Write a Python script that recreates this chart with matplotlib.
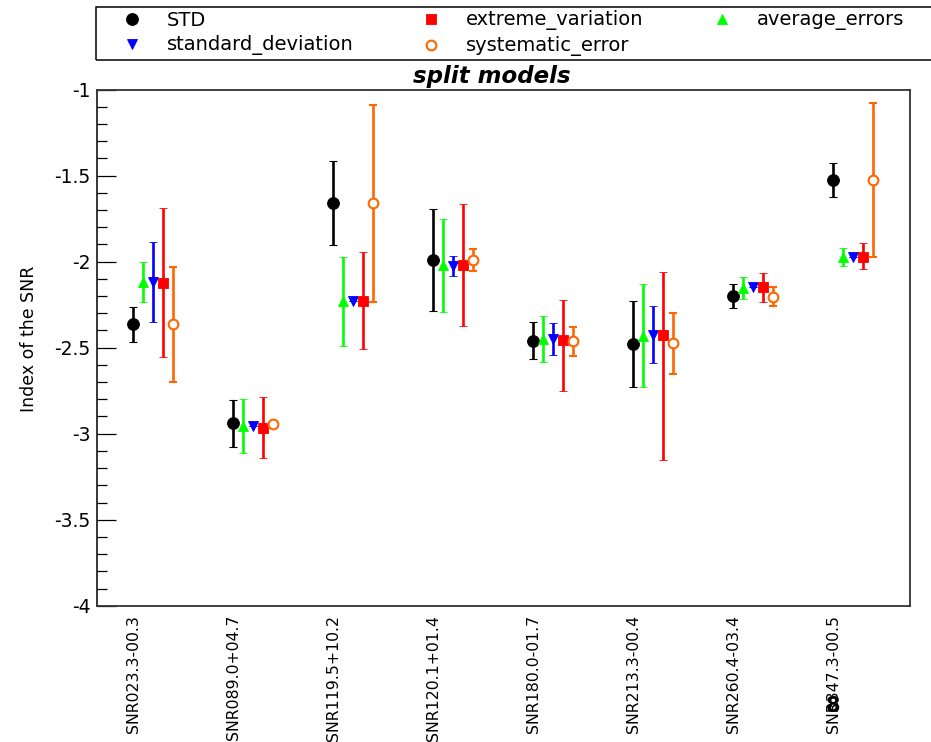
# Spectral index of SNRs, split models

import numpy as np
import matplotlib
matplotlib.use('Agg')
import matplotlib.pyplot as plt
from matplotlib.ticker import MultipleLocator, FormatStrFormatter
from matplotlib.patches import Rectangle

plt.rcParams['font.family'] = 'DejaVu Sans'
plt.rcParams['axes.unicode_minus'] = False

# data
snr_names = ['SNR023.3-00.3', 'SNR089.0+04.7', 'SNR119.5+10.2', 'SNR120.1+01.4',
             'SNR180.0-01.7', 'SNR213.3-00.4', 'SNR260.4-03.4', 'SNR347.3-00.5']

std_val = [-2.365, -2.94, -1.66, -1.99, -2.46, -2.48, -2.20, -1.525]
std_err = [0.10, 0.137, 0.243, 0.294, 0.107, 0.25, 0.07, 0.10]

avg_val = [-2.12, -2.955, -2.23, -2.022, -2.451, -2.43, -2.154, -1.972]
avg_err = [0.117, 0.155, 0.26, 0.272, 0.134, 0.30, 0.065, 0.054]

sdev_val = [-2.119, -2.955, -2.227, -2.027, -2.449, -2.424, -2.145, -1.971]
sdev_err = [0.233, 0.0, 0.0, 0.058, 0.091, 0.165, 0.0, 0.0]

ext_val = [-2.122, -2.964, -2.226, -2.018, -2.455, -2.426, -2.149, -1.971]
ext_err_lo = [0.434, 0.179, 0.28, 0.354, 0.295, 0.727, 0.086, 0.074]
ext_err_hi = [0.434, 0.179, 0.28, 0.354, 0.23, 0.364, 0.086, 0.078]

sys_val = [-2.365, -2.944, -1.66, -1.992, -2.463, -2.475, -2.203, -1.525]
sys_err = [0.335, 0.0, 0.572, 0.064, 0.085, 0.175, 0.054, 0.446]

orange = '#ff6600'
x = np.arange(len(snr_names))

fig = plt.figure(figsize=(9.31, 7.42), dpi=100)
ax = fig.add_axes([96.7/931, 1-605.7/742, (910-96.7)/931, (605.7-89.7)/742])

eb = dict(linestyle='none', elinewidth=1.9, capsize=2.8, capthick=1.8)

c_std = ax.errorbar(x, std_val, yerr=std_err, fmt='o', color='black', ms=8.4, mew=0.8, **eb)
c_avg = ax.errorbar(x + 0.1, avg_val, yerr=avg_err, fmt='^', color='#00ff00', ms=7.4, mew=0.6, **eb)
c_sdev = ax.errorbar(x + 0.2, sdev_val, yerr=sdev_err, fmt='v', color='#0000ff', ms=7.4, mew=0.6, **eb)
c_ext = ax.errorbar(x + 0.3, ext_val, yerr=[ext_err_lo, ext_err_hi], fmt='s', color='#ff0000', ms=7.3, mew=0.6, **eb)
c_sys = ax.errorbar(x + 0.4, sys_val, yerr=sys_err, fmt='o', color=orange, mfc='white', mec=orange, ms=7.0, mew=1.5, **eb)

ax.set_xlim(-0.364, 7.77)
ax.set_ylim(-4, -1)
ax.set_xticks(x)
ax.set_xticklabels(snr_names, rotation=90, fontsize=11.3)
ax.tick_params(axis='x', length=0, pad=6.5)

ax.yaxis.set_major_locator(MultipleLocator(0.5))
ax.yaxis.set_minor_locator(MultipleLocator(0.1))
ax.yaxis.set_major_formatter(FormatStrFormatter('%g'))
ax.tick_params(axis='y', which='major', direction='in', length=13.9, width=0.9, labelsize=13.5, pad=4.3)
ax.tick_params(axis='y', which='minor', direction='in', length=7.2, width=0.9)
ax.tick_params(axis='y', right=False)

for side in ['top', 'bottom', 'right']:
    ax.spines[side].set_color('#333333')
    ax.spines[side].set_linewidth(1.3)
ax.spines['left'].set_linewidth(1.1)

fig.text(28.7/931, 1-339/742, 'Index of the SNR', rotation=90, ha='center', va='center', fontsize=12.5)
fig.text(492/931, 1-76.7/742, 'split models', ha='center', va='center',
         fontsize=16.5, fontweight='bold', fontstyle='italic')

# legend box, runs off the right edge like the original
fig.patches.append(Rectangle((95.7/931, 1-60/742), 0.92, 53.3/742, transform=fig.transFigure,
                             fill=False, edgecolor='black', linewidth=1.1, clip_on=False))
handles = [c_std.lines[0], c_sdev.lines[0], c_ext.lines[0], c_sys.lines[0], c_avg.lines[0]]
labels = ['STD', 'standard_deviation', 'extreme_variation', 'systematic_error', 'average_errors']
fig.legend(handles, labels, loc='upper left', bbox_to_anchor=(122/931, 1-10.5/742), ncol=3,
           frameon=False, borderpad=0, borderaxespad=0, handlelength=1.0, handletextpad=1.3,
           columnspacing=3.5, labelspacing=0.3, fontsize=14, numpoints=1)

fig.text(833/931, 1-706/742, '8', ha='center', va='center', fontsize=15, fontweight='bold')

plt.savefig('out.png', dpi=100)
